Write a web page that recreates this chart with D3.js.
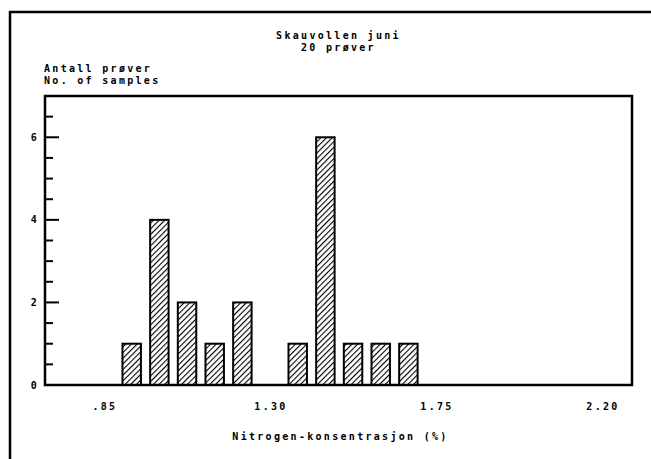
<!DOCTYPE html>
<head>
<meta charset="utf-8">
<script src="https://d3js.org/d3.v7.min.js"></script>
<style>
  body { margin: 0; background: #fff; }
  text { font-family: "DejaVu Sans Mono", monospace; font-weight: bold; font-size: 10px; letter-spacing: 2.3px; fill: #000; }
</style>
</head>
<body>
<div id="datavis"></div>

<script type="text/javascript">
    // histogram data: bin centres (N %) and number of samples
    var binCenters = [0.9225, 0.9975, 1.0725, 1.1475, 1.2225, 1.2975, 1.3725, 1.4475, 1.5225, 1.5975, 1.6725];
    var counts     = [1, 4, 2, 1, 2, 0, 1, 6, 1, 1, 1];
    var xTicks     = [0.85, 1.30, 1.75, 2.20];
    var xTickText  = [".85", "1.30", "1.75", "2.20"];
    var yTicks     = [0, 2, 4, 6];
    var binWidth   = 0.05;

    var W = 651, H = 459;
    var margin = {top: 96, right: 19, bottom: 74, left: 45},
        width = W - margin.left - margin.right,
        height = H - margin.top - margin.bottom;

    var svg = d3.select("#datavis")
                .append("svg")
                .attr("width", W)
                .attr("height", H);

    // hatch pattern for the bars
    var pat = svg.append("defs").append("pattern")
                 .attr("id", "hatch")
                 .attr("patternUnits", "userSpaceOnUse")
                 .attr("width", 4).attr("height", 4)
                 .attr("patternTransform", "rotate(45)");
    pat.append("rect").attr("width", 4).attr("height", 4).attr("fill", "#fff");
    pat.append("line").attr("x1", 0).attr("y1", 0).attr("x2", 0).attr("y2", 4)
       .attr("stroke", "#000").attr("stroke-width", 2.2);

    // outer frame (left and top only visible)
    svg.append("path")
       .attr("d", "M10," + H + "V12H" + W)
       .attr("fill", "none").attr("stroke", "#000").attr("stroke-width", 2.5);

    // titles
    svg.append("text").attr("x", margin.left + width / 2).attr("y", 39)
       .attr("text-anchor", "middle").text("Skauvollen juni");
    svg.append("text").attr("x", margin.left + width / 2).attr("y", 51)
       .attr("text-anchor", "middle").text("20 prøver");
    svg.append("text").attr("x", 44).attr("y", 72).text("Antall prøver");
    svg.append("text").attr("x", 44).attr("y", 84).text("No. of samples");

    var g = svg.append("g")
               .attr("transform", "translate(" + margin.left + "," + margin.top + ")");

    var x = d3.scaleLinear().domain([0.6875, 2.2786]).range([0, width]);
    var y = d3.scaleLinear().domain([0, 7]).range([height, 0]);

    // bars
    var data = binCenters.map(function(c, i) { return {c: c, n: counts[i]}; })
                         .filter(function(d) { return d.n > 0; });
    g.selectAll("rect.bar")
     .data(data)
     .enter().append("rect")
     .attr("class", "bar")
     .attr("x", function(d) { return x(d.c - binWidth / 2); })
     .attr("width", function(d) { return x(d.c + binWidth / 2) - x(d.c - binWidth / 2); })
     .attr("y", function(d) { return y(d.n); })
     .attr("height", function(d) { return y(0) - y(d.n); })
     .attr("fill", "url(#hatch)")
     .attr("stroke", "#000").attr("stroke-width", 2);

    // plot frame
    g.append("rect").attr("width", width).attr("height", height)
     .attr("fill", "none").attr("stroke", "#000").attr("stroke-width", 2.5);

    // y ticks: minor every 0.5, major on labelled values, drawn inward
    var minor = d3.range(0, 7.01, 0.5);
    g.selectAll("line.ytick")
     .data(minor)
     .enter().append("line")
     .attr("x1", 0)
     .attr("x2", function(d) { return yTicks.indexOf(d) >= 0 ? 14 : 8; })
     .attr("y1", function(d) { return y(d); })
     .attr("y2", function(d) { return y(d); })
     .attr("stroke", "#000").attr("stroke-width", 2);

    g.selectAll("text.ylab")
     .data(yTicks)
     .enter().append("text")
     .attr("x", -6)
     .attr("y", function(d) { return y(d); })
     .attr("dy", "0.35em")
     .attr("text-anchor", "end")
     .text(function(d) { return d; });

    // x tick labels (no tick marks in the original)
    g.selectAll("text.xlab")
     .data(xTicks)
     .enter().append("text")
     .attr("x", function(d) { return x(d); })
     .attr("y", height + 25)
     .attr("text-anchor", "middle")
     .text(function(d, i) { return xTickText[i]; });

    g.append("text")
     .attr("x", width / 2 + 2)
     .attr("y", height + 55)
     .attr("text-anchor", "middle")
     .text("Nitrogen-konsentrasjon (%)");
</script>
</body>
